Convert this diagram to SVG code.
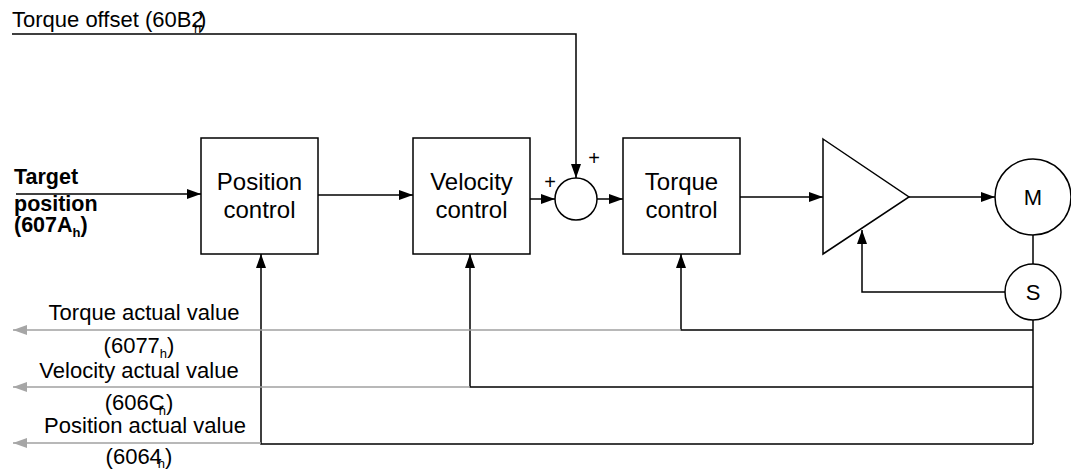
<svg xmlns="http://www.w3.org/2000/svg" width="1071" height="470" viewBox="0 0 1071 470">
<style>
.box{fill:#fff;stroke:#000;stroke-width:1.5}
.ln{fill:none;stroke:#000;stroke-width:1.5}
.gl{fill:none;stroke:#a0a0a0;stroke-width:1.5}
.t{font-family:"Liberation Sans",Arial,sans-serif;font-size:22px;fill:#000}
.bt{font-family:"Liberation Sans",Arial,sans-serif;font-size:24px;fill:#000;text-anchor:middle}
.b{font-weight:bold;font-size:21.5px}
.sub{font-size:13px}
.pl{font-family:"Liberation Sans",Arial,sans-serif;font-size:20px;fill:#000;text-anchor:middle}
</style>
<defs>
<marker id="ar" markerUnits="userSpaceOnUse" markerWidth="15" markerHeight="12" refX="14" refY="6" orient="auto"><path d="M0,1 L14,6 L0,11 z" fill="#000"/></marker>
<marker id="ga" markerUnits="userSpaceOnUse" markerWidth="15" markerHeight="12" refX="14" refY="6" orient="auto"><path d="M0,1 L14,6 L0,11 z" fill="#a6a6a6"/></marker>
</defs>
<rect width="1071" height="470" fill="#fff"/>
<g id="connectors">
<path class="ln" d="M16,194 H201" marker-end="url(#ar)"/>
<path class="ln" d="M318,195 H413" marker-end="url(#ar)"/>
<path class="ln" d="M530,199 H555" marker-end="url(#ar)"/>
<path class="ln" d="M597,199 H623" marker-end="url(#ar)"/>
<path class="ln" d="M12,34 H576 V178" marker-end="url(#ar)"/>
<path class="ln" d="M740,197 H823" marker-end="url(#ar)"/>
<path class="ln" d="M909,197 H995" marker-end="url(#ar)"/>
<path class="ln" d="M1033,235 V264"/>
<path class="ln" d="M1005,292 H862 V230" marker-end="url(#ar)"/>
<path class="ln" d="M1033,320 V444"/>
<path class="ln" d="M1033,330 H681 V254" marker-end="url(#ar)"/>
<path class="ln" d="M1033,387 H470 V254" marker-end="url(#ar)"/>
<path class="ln" d="M1033,444 H261 V254" marker-end="url(#ar)"/>
<path class="gl" d="M681,330 H13" marker-end="url(#ga)"/>
<path class="gl" d="M470,387 H13" marker-end="url(#ga)"/>
<path class="gl" d="M261,443 H13" marker-end="url(#ga)"/>
</g>
<g id="position-control">
<rect class="box" x="201" y="138" width="117" height="116"/>
<text class="bt" x="259.5" y="190">Position</text>
<text class="bt" x="259.5" y="218">control</text>
</g>
<g id="velocity-control">
<rect class="box" x="413" y="138" width="117" height="116"/>
<text class="bt" x="471.5" y="190">Velocity</text>
<text class="bt" x="471.5" y="218">control</text>
</g>
<g id="summing-junction">
<circle class="box" cx="576" cy="199" r="21"/>
<text class="pl" x="594" y="165">+</text>
<text class="pl" x="550" y="189">+</text>
</g>
<g id="torque-control">
<rect class="box" x="623" y="138" width="117" height="116"/>
<text class="bt" x="681.5" y="190">Torque</text>
<text class="bt" x="681.5" y="218">control</text>
</g>
<g id="amplifier">
<path class="box" d="M823,139 L909,197 L823,254 z"/>
</g>
<g id="motor">
<circle class="box" cx="1033" cy="197" r="38"/>
<text class="bt" x="1033" y="205" style="font-size:22px">M</text>
</g>
<g id="sensor">
<circle class="box" cx="1033" cy="292" r="28"/>
<text class="bt" x="1033" y="300" style="font-size:22px">S</text>
</g>
<g id="labels">
<text class="t" x="12" y="27">Torque offset (60B2<tspan class="sub" x="194" dy="6">h</tspan><tspan x="199" dy="-6">)</tspan></text>
<text class="t b" x="14" y="184">Target</text>
<text class="t b" x="14" y="211">position</text>
<text class="t b" x="14" y="232">(607A<tspan class="sub" dy="5">h</tspan><tspan dy="-5">)</tspan></text>
<text class="t" x="144" y="320" text-anchor="middle">Torque actual value</text>
<text class="t" x="139" y="353" text-anchor="middle">(6077<tspan class="sub" dy="5">h</tspan><tspan dy="-5">)</tspan></text>
<text class="t" x="139" y="378" text-anchor="middle">Velocity actual value</text>
<text class="t" x="139" y="410" text-anchor="middle">(606C<tspan class="sub" dx="-6" dy="5">h</tspan><tspan dy="-5">)</tspan></text>
<text class="t" x="145" y="433" text-anchor="middle">Position actual value</text>
<text class="t" x="139" y="464" text-anchor="middle">(6064<tspan class="sub" dx="-4" dy="4">h</tspan><tspan dy="-4">)</tspan></text>
</g>
</svg>
